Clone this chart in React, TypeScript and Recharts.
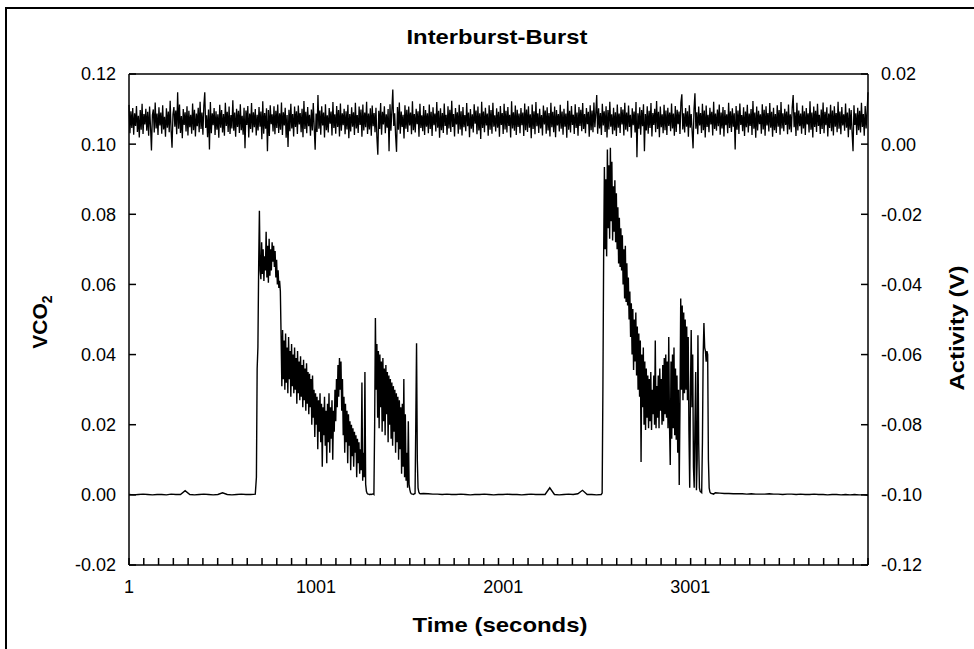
import React from 'react';
import { LineChart, Line, XAxis, YAxis, ReferenceLine } from 'recharts';

// ---------------- data ----------------
// Time axis (seconds)
const xDomain: [number, number] = [1, 3951];
const xLabelTicks = [1, 1001, 2001, 3001];
const xMinorStep = 79;

const leftTicks = [-0.02, 0, 0.02, 0.04, 0.06, 0.08, 0.1, 0.12];
const rightTicks = [-0.12, -0.1, -0.08, -0.06, -0.04, -0.02, 0, 0.02];

// VCO2 — baseline before the first burst (start 1 s, every 25 s)
const vco2Quiet1Start = 1;
const vco2QuietStep = 25;
const vco2Quiet1 = [
  0.0001, 0.0000, 0.0001, 0.0002, 0.0001, 0.0000, 0.0001, 0.0001, 0.0000, 0.0002,
  0.0001, 0.0001, 0.0012, 0.0001, 0.0000, 0.0001, 0.0002, 0.0001, 0.0000, 0.0001,
  0.0006, 0.0001, 0.0000, 0.0001, 0.0002, 0.0001, 0.0001, 0.0002,
];

// VCO2 — first burst (start 682 s, every 4 s)
const vco2Burst1Start = 682;
const vco2BurstStep = 4;
const vco2Burst1 = [
  0.0050, 0.0360, 0.0420, 0.0650, 0.0810, 0.0640, 0.0615, 0.0720, 0.0630, 0.0700,
  0.0610, 0.0680, 0.0640, 0.0750, 0.0620, 0.0710, 0.0605, 0.0730, 0.0625, 0.0700,
  0.0640, 0.0720, 0.0665, 0.0710, 0.0650, 0.0695, 0.0620, 0.0670, 0.0600, 0.0640,
  0.0590, 0.0610, 0.0580, 0.0450, 0.0310, 0.0470, 0.0330, 0.0440, 0.0300, 0.0460,
  0.0320, 0.0420, 0.0290, 0.0450, 0.0330, 0.0410, 0.0280, 0.0430, 0.0310, 0.0400,
  0.0290, 0.0420, 0.0300, 0.0390, 0.0260, 0.0410, 0.0290, 0.0380, 0.0270, 0.0395,
  0.0280, 0.0370, 0.0250, 0.0385, 0.0270, 0.0360, 0.0240, 0.0375, 0.0260, 0.0350,
  0.0230, 0.0345, 0.0250, 0.0330, 0.0200, 0.0340, 0.0220, 0.0300, 0.0165, 0.0290,
  0.0200, 0.0280, 0.0130, 0.0270, 0.0180, 0.0290, 0.0150, 0.0260, 0.0080, 0.0250,
  0.0170, 0.0280, 0.0140, 0.0240, 0.0090, 0.0260, 0.0150, 0.0290, 0.0120, 0.0250,
  0.0160, 0.0270, 0.0100, 0.0240, 0.0180, 0.0300, 0.0210, 0.0330, 0.0250, 0.0370,
  0.0280, 0.0390, 0.0300, 0.0380, 0.0240, 0.0330, 0.0170, 0.0280, 0.0120, 0.0260,
  0.0150, 0.0240, 0.0090, 0.0230, 0.0140, 0.0210, 0.0070, 0.0200, 0.0110, 0.0190,
  0.0080, 0.0180, 0.0120, 0.0170, 0.0050, 0.0160, 0.0090, 0.0150, 0.0060, 0.0130,
  0.0070, 0.0320, 0.0040, 0.0120, 0.0050, 0.0350, 0.0030, 0.0010, 0.0004, 0.0002,
  0.0002, 0.0001, 0.0001, 0.0002, 0.0001, 0.0002, 0.0003, 0.0001, 0.0200, 0.0504,
  0.0300, 0.0430, 0.0220, 0.0410, 0.0190, 0.0400, 0.0250, 0.0380, 0.0180, 0.0390,
  0.0210, 0.0360, 0.0170, 0.0370, 0.0230, 0.0350, 0.0150, 0.0340, 0.0200, 0.0330,
  0.0160, 0.0320, 0.0140, 0.0310, 0.0180, 0.0300, 0.0120, 0.0290, 0.0150, 0.0280,
  0.0100, 0.0270, 0.0130, 0.0250, 0.0060, 0.0260, 0.0080, 0.0330, 0.0050, 0.0230,
  0.0040, 0.0120, 0.0020, 0.0210, 0.0030, 0.0015, 0.0006, 0.0003, 0.0002, 0.0002,
  0.0001, 0.0003, 0.0004, 0.0210, 0.0432, 0.0100, 0.0020, 0.0008, 0.0004, 0.0003,
];

// VCO2 — baseline between bursts (start 1575 s, every 25 s)
const vco2Quiet2Start = 1575;
const vco2Quiet2 = [
  0.0004, 0.0003, 0.0002, 0.0002, 0.0001, 0.0002, 0.0001, 0.0001, 0.0002, 0.0001,
  0.0000, 0.0001, 0.0001, 0.0002, 0.0001, 0.0000, 0.0001, 0.0001, 0.0002, 0.0001,
  0.0001, 0.0000, 0.0001, 0.0002, 0.0001, 0.0001, 0.0001, 0.0020, 0.0001, 0.0000,
  0.0001, 0.0002, 0.0001, 0.0003, 0.0013, 0.0001, 0.0001, 0.0000, 0.0001,
];

// VCO2 — second burst (start 2530 s, every 4 s)
const vco2Burst2Start = 2530;
const vco2Burst2 = [
  0.0005, 0.0300, 0.0680, 0.0935, 0.0700, 0.0900, 0.0680, 0.0985, 0.0760, 0.0940,
  0.0730, 0.0990, 0.0780, 0.0950, 0.0725, 0.0880, 0.0750, 0.0897, 0.0720, 0.0860,
  0.0700, 0.0820, 0.0660, 0.0790, 0.0650, 0.0760, 0.0640, 0.0740, 0.0600, 0.0700,
  0.0560, 0.0710, 0.0550, 0.0660, 0.0540, 0.0620, 0.0500, 0.0580, 0.0450, 0.0546,
  0.0400, 0.0530, 0.0356, 0.0500, 0.0380, 0.0520, 0.0340, 0.0480, 0.0300, 0.0460,
  0.0280, 0.0440, 0.0094, 0.0400, 0.0250, 0.0420, 0.0200, 0.0380, 0.0185, 0.0360,
  0.0220, 0.0340, 0.0190, 0.0330, 0.0210, 0.0350, 0.0185, 0.0300, 0.0230, 0.0340,
  0.0200, 0.0440, 0.0190, 0.0310, 0.0220, 0.0340, 0.0190, 0.0360, 0.0240, 0.0330,
  0.0200, 0.0370, 0.0210, 0.0390, 0.0230, 0.0400, 0.0220, 0.0380, 0.0190, 0.0450,
  0.0200, 0.0085, 0.0380, 0.0160, 0.0400, 0.0190, 0.0420, 0.0170, 0.0360, 0.0157,
  0.0340, 0.0120, 0.0300, 0.0028, 0.0250, 0.0560, 0.0300, 0.0540, 0.0270, 0.0520,
  0.0290, 0.0500, 0.0300, 0.0480, 0.0270, 0.0450, 0.0180, 0.0020, 0.0300, 0.0470,
  0.0250, 0.0400, 0.0080, 0.0020, 0.0200, 0.0350, 0.0013, 0.0100, 0.0455, 0.0150,
  0.0020, 0.0010, 0.0008, 0.0006, 0.0150, 0.0400, 0.0490, 0.0420, 0.0410, 0.0380,
  0.0410, 0.0400, 0.0100, 0.0020, 0.0008, 0.0005, 0.0004, 0.0003, 0.0003, 0.0002,
];

// VCO2 — baseline after the second burst (start 3135 s, every 24 s)
const vco2Quiet3Start = 3135;
const vco2Quiet3Step = 24;
const vco2Quiet3 = [
  0.0006, 0.0005, 0.0004, 0.0004, 0.0003, 0.0003, 0.0003, 0.0002, 0.0003, 0.0002,
  0.0002, 0.0002, 0.0003, 0.0002, 0.0002, 0.0001, 0.0002, 0.0002, 0.0001, 0.0002,
  0.0001, 0.0001, 0.0002, 0.0001, 0.0001, 0.0000, 0.0001, 0.0001, 0.0000, 0.0001,
  0.0000, 0.0001, 0.0000, 0.0000, -0.0001,
];

// Activity (V) — start 1 s, every 5 s
const activityStart = 1;
const activityStep = 5;
const activity = [
  0.0112, 0.0031, 0.0094, 0.0046, 0.0103, 0.0027, 0.0088, 0.0052, 0.0109, 0.0035, 0.0081, 0.0019, 0.0097, 0.0041, 0.0115, 0.0029, 0.0086, 0.0056, 0.0101, 0.0038,
  0.0092, 0.0024, 0.0107, 0.0049, -0.0018, 0.0083, 0.0099, 0.0033, 0.0119, 0.0045, 0.0087, 0.0026, 0.0105, 0.0053, 0.0090, 0.0030, 0.0111, 0.0042, 0.0078, 0.0021,
  0.0102, 0.0047, 0.0093, 0.0034, 0.0124, 0.0039, -0.0010, 0.0085, 0.0106, 0.0050, 0.0096, 0.0028, 0.0148, 0.0044, 0.0113, 0.0032, 0.0080, 0.0017, 0.0100, 0.0055,
  0.0091, 0.0036, 0.0108, 0.0025, 0.0095, 0.0048, 0.0084, 0.0030, 0.0116, 0.0040, 0.0098, 0.0022, 0.0087, 0.0051, 0.0104, 0.0034, 0.0121, 0.0043, 0.0090, 0.0027,
  0.0110, 0.0148, 0.0046, 0.0082, 0.0020, 0.0099, -0.0015, 0.0120, 0.0031, 0.0088, 0.0054, 0.0103, 0.0026, 0.0094, 0.0041, 0.0085, 0.0018, 0.0112, 0.0047, 0.0097,
  0.0033, 0.0086, 0.0024, 0.0118, 0.0052, 0.0092, 0.0035, 0.0107, 0.0029, 0.0083, 0.0045, 0.0125, 0.0038, 0.0090, 0.0021, 0.0101, 0.0049, 0.0095, 0.0032, 0.0114,
  0.0040, 0.0081, 0.0027, 0.0104, -0.0012, 0.0096, 0.0055, 0.0109, 0.0019, 0.0087, 0.0043, 0.0117, 0.0033, 0.0091, 0.0048, 0.0100, 0.0025, 0.0084, 0.0039, 0.0106,
  0.0050, 0.0093, 0.0014, 0.0122, 0.0030, 0.0089, 0.0044, 0.0102, -0.0020, 0.0097, 0.0023, 0.0111, 0.0057, 0.0085, 0.0036, 0.0108, 0.0028, 0.0095, 0.0046, 0.0113,
  0.0032, 0.0088, 0.0041, 0.0119, 0.0026, 0.0091, 0.0053, 0.0104, 0.0018, 0.0083, -0.0008, 0.0098, 0.0037, 0.0115, 0.0045, 0.0086, 0.0022, 0.0107, 0.0049, 0.0094,
  0.0029, 0.0110, 0.0056, 0.0089, 0.0034, 0.0101, 0.0020, 0.0123, 0.0043, 0.0092, 0.0031, 0.0106, 0.0051, 0.0084, 0.0024, 0.0099, 0.0039, 0.0117, 0.0047, -0.0016,
  0.0087, 0.0035, 0.0140, 0.0044, 0.0096, 0.0027, 0.0108, 0.0053, 0.0090, 0.0019, 0.0114, 0.0040, 0.0082, 0.0033, 0.0103, 0.0058, 0.0093, 0.0025, 0.0120, 0.0046,
  0.0085, 0.0030, 0.0109, 0.0049, 0.0097, 0.0022, 0.0116, 0.0038, 0.0088, 0.0054, 0.0101, 0.0028, 0.0094, 0.0042, 0.0112, 0.0017, 0.0086, 0.0036, 0.0105, 0.0050,
  0.0091, 0.0026, 0.0118, 0.0045, 0.0083, 0.0032, 0.0107, 0.0055, 0.0099, 0.0021, 0.0113, 0.0039, 0.0090, 0.0048, 0.0121, 0.0029, 0.0087, 0.0042, 0.0102, 0.0024,
  0.0110, 0.0051, 0.0089, 0.0034, 0.0104, 0.0019, -0.0030, 0.0095, 0.0043, 0.0117, 0.0027, 0.0092, 0.0056, 0.0108, 0.0031, 0.0085, 0.0047, 0.0100, -0.0020, 0.0114,
  0.0038, 0.0096, 0.0156, 0.0052, 0.0088, 0.0024, -0.0022, 0.0106, 0.0041, 0.0119, 0.0030, 0.0093, 0.0049, 0.0084, 0.0016, 0.0111, 0.0044, 0.0098, 0.0035, 0.0107,
  0.0053, 0.0090, 0.0028, 0.0122, 0.0040, 0.0086, 0.0033, 0.0101, 0.0057, 0.0094, 0.0021, 0.0115, 0.0046, 0.0082, 0.0037, 0.0109, 0.0026, 0.0097, 0.0050, 0.0088,
  0.0031, 0.0113, 0.0043, 0.0092, 0.0023, 0.0105, 0.0054, 0.0087, 0.0036, 0.0120, 0.0047, 0.0095, 0.0018, 0.0102, 0.0040, 0.0089, 0.0032, 0.0116, 0.0052, 0.0084,
  0.0027, 0.0108, 0.0045, 0.0098, 0.0035, 0.0124, 0.0049, 0.0086, 0.0022, 0.0103, 0.0056, 0.0091, 0.0030, 0.0112, 0.0042, 0.0094, 0.0025, 0.0106, 0.0048, 0.0083,
  0.0037, 0.0117, 0.0051, 0.0090, 0.0020, 0.0100, 0.0044, 0.0085, 0.0033, 0.0114, 0.0058, 0.0096, 0.0028, 0.0107, 0.0039, 0.0088, 0.0015, 0.0121, 0.0046, 0.0093,
  0.0034, 0.0104, 0.0053, 0.0087, 0.0024, 0.0111, 0.0041, 0.0097, 0.0030, 0.0118, 0.0050, 0.0082, 0.0036, 0.0102, 0.0047, 0.0092, 0.0021, 0.0109, 0.0055, 0.0089,
  0.0029, 0.0115, 0.0042, 0.0095, 0.0033, 0.0106, 0.0052, 0.0084, 0.0019, 0.0122, 0.0045, 0.0091, 0.0038, 0.0110, 0.0026, 0.0098, 0.0049, 0.0087, 0.0031, 0.0103,
  0.0054, 0.0090, 0.0023, 0.0116, 0.0040, 0.0099, 0.0035, 0.0108, 0.0047, 0.0085, 0.0017, 0.0113, 0.0043, 0.0094, 0.0028, 0.0120, 0.0051, 0.0088, 0.0032, 0.0101,
  0.0045, 0.0083, 0.0025, 0.0110, 0.0056, 0.0096, 0.0030, 0.0105, 0.0039, 0.0089, 0.0022, 0.0118, 0.0048, 0.0092, 0.0034, 0.0107, 0.0020, 0.0097, 0.0053, 0.0086,
  0.0036, 0.0112, 0.0044, 0.0093, 0.0027, 0.0101, 0.0050, 0.0087, 0.0018, 0.0124, 0.0041, 0.0095, 0.0033, 0.0109, 0.0055, 0.0084, 0.0029, 0.0114, 0.0046, 0.0090,
  0.0024, 0.0106, 0.0052, 0.0098, 0.0037, 0.0117, 0.0043, 0.0086, 0.0031, 0.0103, 0.0057, 0.0092, 0.0021, 0.0111, 0.0040, 0.0096, 0.0034, 0.0119, 0.0048, 0.0088,
  0.0140, 0.0030, 0.0102, 0.0045, 0.0089, 0.0026, 0.0115, 0.0053, 0.0094, 0.0035, 0.0108, 0.0019, 0.0097, 0.0042, 0.0121, 0.0050, 0.0085, 0.0028, 0.0104, 0.0039,
  0.0091, 0.0023, 0.0113, 0.0047, 0.0087, 0.0032, 0.0106, 0.0056, 0.0099, 0.0025, 0.0118, 0.0041, 0.0090, 0.0036, 0.0110, 0.0049, 0.0084, 0.0018, 0.0102, 0.0054,
  0.0093, 0.0033, 0.0120, -0.0037, 0.0088, 0.0044, 0.0105, 0.0027, 0.0097, 0.0051, 0.0114, -0.0020, 0.0086, 0.0039, 0.0108, 0.0030, 0.0095, 0.0046, 0.0117, 0.0022,
  0.0089, 0.0055, 0.0101, 0.0034, 0.0123, 0.0043, 0.0092, 0.0020, 0.0107, 0.0048, 0.0085, 0.0031, 0.0112, 0.0040, 0.0096, 0.0026, 0.0104, 0.0052, 0.0090, 0.0037,
  0.0116, 0.0045, 0.0087, 0.0024, 0.0109, 0.0035, 0.0098, 0.0057, 0.0093, 0.0029, 0.0119, 0.0142, 0.0042, 0.0088, 0.0033, 0.0103, 0.0050, 0.0094, 0.0021, 0.0111,
  0.0047, 0.0086, 0.0036, -0.0012, 0.0100, 0.0145, 0.0044, 0.0091, 0.0028, 0.0107, 0.0053, 0.0089, 0.0032, 0.0115, 0.0040, 0.0096, 0.0019, 0.0110, 0.0049, 0.0084,
  0.0034, 0.0104, 0.0056, 0.0092, 0.0025, 0.0121, 0.0043, 0.0087, 0.0038, 0.0099, 0.0051, 0.0113, 0.0027, 0.0090, 0.0045, 0.0106, 0.0022, 0.0097, 0.0054, 0.0085,
  0.0031, 0.0118, 0.0046, 0.0094, 0.0035, 0.0102, 0.0050, 0.0088, -0.0015, 0.0109, 0.0041, 0.0096, 0.0029, 0.0116, 0.0055, 0.0083, 0.0037, 0.0105, 0.0023, 0.0093,
  0.0048, 0.0112, 0.0033, 0.0087, 0.0052, 0.0100, 0.0026, 0.0123, 0.0044, 0.0090, 0.0018, 0.0107, 0.0039, 0.0095, 0.0057, 0.0085, 0.0030, 0.0114, 0.0042, 0.0098,
  0.0024, 0.0108, 0.0053, 0.0089, 0.0036, 0.0117, 0.0047, 0.0092, 0.0021, 0.0104, 0.0040, 0.0086, 0.0032, 0.0111, 0.0050, 0.0097, 0.0027, 0.0120, 0.0045, 0.0088,
  0.0037, 0.0101, 0.0055, 0.0093, 0.0028, 0.0113, 0.0042, 0.0085, 0.0034, 0.0106, 0.0140, 0.0048, 0.0091, 0.0023, 0.0118, 0.0039, 0.0096, 0.0051, 0.0087, 0.0030,
  0.0110, 0.0045, 0.0094, 0.0026, 0.0103, 0.0056, 0.0088, 0.0033, 0.0122, 0.0041, 0.0090, 0.0019, 0.0107, 0.0049, 0.0095, 0.0035, 0.0115, 0.0052, 0.0084, 0.0029,
  0.0099, 0.0043, 0.0119, 0.0031, 0.0092, 0.0054, 0.0105, 0.0022, 0.0087, 0.0046, 0.0112, 0.0037, 0.0096, 0.0025, 0.0108, 0.0050, 0.0089, 0.0034, 0.0121, 0.0044,
  0.0093, 0.0028, 0.0106, 0.0053, 0.0085, 0.0038, 0.0116, 0.0047, 0.0090, 0.0020, 0.0102, 0.0041, 0.0097, 0.0032, -0.0020, 0.0111, 0.0055, 0.0088, 0.0026, 0.0104,
  0.0040, 0.0095, 0.0033, 0.0118, 0.0049, 0.0086, 0.0024, 0.0109, 0.0045, 0.0092, 0.0148,
];

// ---------------- build tables ----------------
const seg = (start: number, step: number, values: number[]) =>
  values.map((v, i) => ({ t: start + i * step, v }));

const vco2Data = [
  ...seg(vco2Quiet1Start, vco2QuietStep, vco2Quiet1),
  ...seg(vco2Burst1Start, vco2BurstStep, vco2Burst1),
  ...seg(vco2Quiet2Start, vco2QuietStep, vco2Quiet2),
  ...seg(vco2Burst2Start, vco2BurstStep, vco2Burst2),
  ...seg(vco2Quiet3Start, vco2Quiet3Step, vco2Quiet3),
];
const activityData = activity.map((a, i) => ({ t: activityStart + i * activityStep, a }));

const xMinorTicks = Array.from(
  { length: Math.floor((xDomain[1] - xDomain[0]) / xMinorStep) + 1 },
  (_, i) => xDomain[0] + i * xMinorStep,
);

// ---------------- styles ----------------
const FONT = '"Liberation Sans", Arial, Helvetica, sans-serif';
const TICK_LEN = 7;
const Y_GAP = 13;
const X_GAP = 15;
const TICK_FONT = 18;
const axisLineStyle = { stroke: '#000', strokeWidth: 1.5 };
const tickLineStyle = { stroke: '#000', strokeWidth: 1.5 };

function YTickText(props: any) {
  const { x, y, payload, textAnchor } = props;
  return (
    <text x={x} y={y} dy="0.36em" textAnchor={textAnchor} fontSize={TICK_FONT} fontFamily={FONT} fill="#000">
      {Number(payload.value).toFixed(2)}
    </text>
  );
}

function XTickText(props: any) {
  const { x, y, payload } = props;
  return (
    <text x={x} y={y} dy="0.72em" textAnchor="middle" fontSize={TICK_FONT} fontFamily={FONT} fill="#000">
      {payload.value}
    </text>
  );
}

// inward minor tick at the bottom end of a vertical reference line
const XTickMark = (p: any) => {
  const yb = Math.max(Number(p.y1), Number(p.y2));
  const x = Number(p.x1);
  return <line x1={x} x2={x} y1={yb} y2={yb - TICK_LEN} stroke="#000" strokeWidth={1.5} />;
};

export default function App() {
  return (
    <div style={{ position: 'absolute', left: 0, top: 0, width: 974, height: 649, overflow: 'hidden', background: '#fff' }}>
      <div
        style={{
          position: 'absolute',
          left: 5,
          top: 7,
          width: 1000,
          height: 700,
          border: '2px solid #000',
          boxSizing: 'border-box',
        }}
      />
      <div style={{ position: 'absolute', left: 0, top: 0 }}>
        <LineChart width={974} height={649} margin={{ top: 74, right: 46, bottom: 44, left: 69 }}>
          <XAxis
            xAxisId="main"
            dataKey="t"
            type="number"
            domain={xDomain}
            ticks={xLabelTicks}
            interval={0}
            height={40}
            tickSize={0}
            tickMargin={X_GAP}
            tickLine={false}
            axisLine={axisLineStyle}
            tick={<XTickText />}
          />
          <YAxis
            yAxisId="left"
            orientation="left"
            type="number"
            domain={[-0.02, 0.12]}
            ticks={leftTicks}
            interval={0}
            width={60}
            tickSize={-TICK_LEN}
            tickMargin={TICK_LEN + Y_GAP}
            tickLine={tickLineStyle}
            axisLine={axisLineStyle}
            tick={<YTickText />}
          />
          <YAxis
            yAxisId="right"
            orientation="right"
            type="number"
            domain={[-0.12, 0.02]}
            ticks={rightTicks}
            interval={0}
            width={60}
            tickSize={-TICK_LEN}
            tickMargin={TICK_LEN + Y_GAP}
            tickLine={tickLineStyle}
            axisLine={axisLineStyle}
            tick={<YTickText />}
          />
          <ReferenceLine xAxisId="main" yAxisId="left" y={0.12} stroke="#000" strokeWidth={1.5} />
          {xMinorTicks.map((t) => (
            <ReferenceLine key={`xt${t}`} xAxisId="main" yAxisId="left" x={t} shape={XTickMark} />
          ))}
          <Line
            xAxisId="main"
            yAxisId="right"
            data={activityData}
            dataKey="a"
            type="linear"
            stroke="#000"
            strokeWidth={1.3}
            dot={false}
            isAnimationActive={false}
          />
          <Line
            xAxisId="main"
            yAxisId="left"
            data={vco2Data}
            dataKey="v"
            type="linear"
            stroke="#000"
            strokeWidth={1.4}
            dot={false}
            isAnimationActive={false}
          />
        </LineChart>
      </div>
      <svg
        width={974}
        height={649}
        style={{ position: 'absolute', left: 0, top: 0, pointerEvents: 'none' }}
        fontFamily={FONT}
        fill="#000"
      >
        <text x={497} y={44} textAnchor="middle" fontSize={21} fontWeight="bold" textLength={181} lengthAdjust="spacingAndGlyphs">
          Interburst-Burst
        </text>
        <text x={500} y={632} textAnchor="middle" fontSize={21} fontWeight="bold" textLength={175} lengthAdjust="spacingAndGlyphs">
          Time (seconds)
        </text>
        <text transform="translate(47,322) rotate(-90)" textAnchor="middle" fontSize={21} fontWeight="bold">
          VCO<tspan fontSize={14} dy={5}>2</tspan>
        </text>
        <text
          transform="translate(964,328) rotate(-90)"
          textAnchor="middle"
          fontSize={21}
          fontWeight="bold"
          textLength={125}
          lengthAdjust="spacingAndGlyphs"
        >
          Activity (V)
        </text>
      </svg>
    </div>
  );
}
